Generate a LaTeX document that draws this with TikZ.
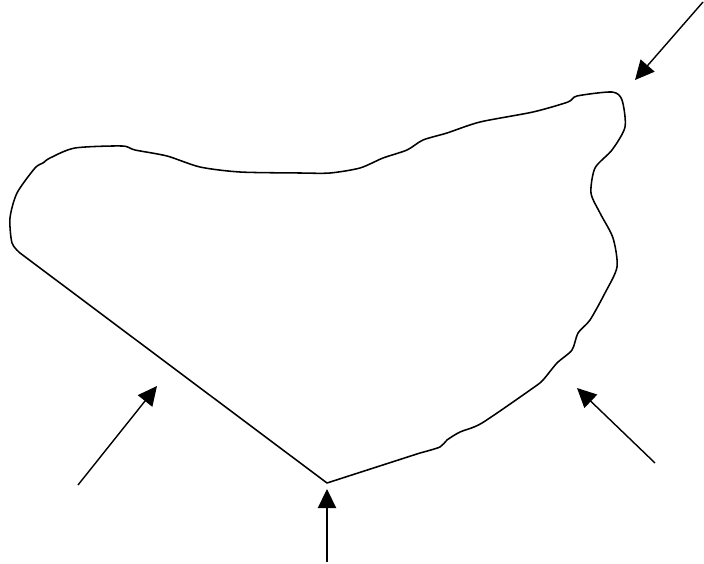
\documentclass[tikz,border=0pt]{standalone}
\usepackage{tikz}
\usetikzlibrary{arrows.meta}

\tikzset{
  outline/.style={line width=1.1pt,line join=round,line cap=round},
  pointer/.style={line width=1pt,-{Triangle[length=0.48cm,width=0.46cm]}}
}

\begin{document}
\begin{tikzpicture}[x=0.025cm,y=-0.025cm]
\useasboundingbox (0,0) rectangle (704,564);
% the outline, wobbly part first, then the two straight sides
\draw[outline] plot[smooth,tension=0.45] coordinates {
  (20,253) (12,243) (10,218) (17,193) (35,168) (43,163) (50,158) (75,148)
  (122,146) (135,150) (167,156) (200,167) (240,172) (300,173) (330,173)
  (360,168) (383,158) (407,150) (423,140) (447,133) (480,122) (533,112)
  (568,102) (577,96) (612,92) (622,100) (625,127) (612,150) (595,168)
  (591,193) (600,213) (613,238) (617,267) (605,293) (590,320) (578,333)
  (572,350) (557,363) (543,380) (533,388) (482,423) (460,432) (447,440)
  (440,447) (420,453)}
  -- (327,483) coordinate (corner) -- cycle;
% arrows
\coordinate (tr tail) at (703,2);   \coordinate (tr tip) at (635,80);
\coordinate (l tail) at (78,485);   \coordinate (l tip) at (157,386);
\coordinate (b tail) at (327,562);  \coordinate (b tip) at (327,489);
\coordinate (r tail) at (655,463);  \coordinate (r tip) at (577,388);
\draw[pointer] (tr tail) -- (tr tip);
\draw[pointer] (l tail) -- (l tip);
\draw[pointer] (b tail) -- (b tip);
\draw[pointer] (r tail) -- (r tip);
\end{tikzpicture}
\end{document}
